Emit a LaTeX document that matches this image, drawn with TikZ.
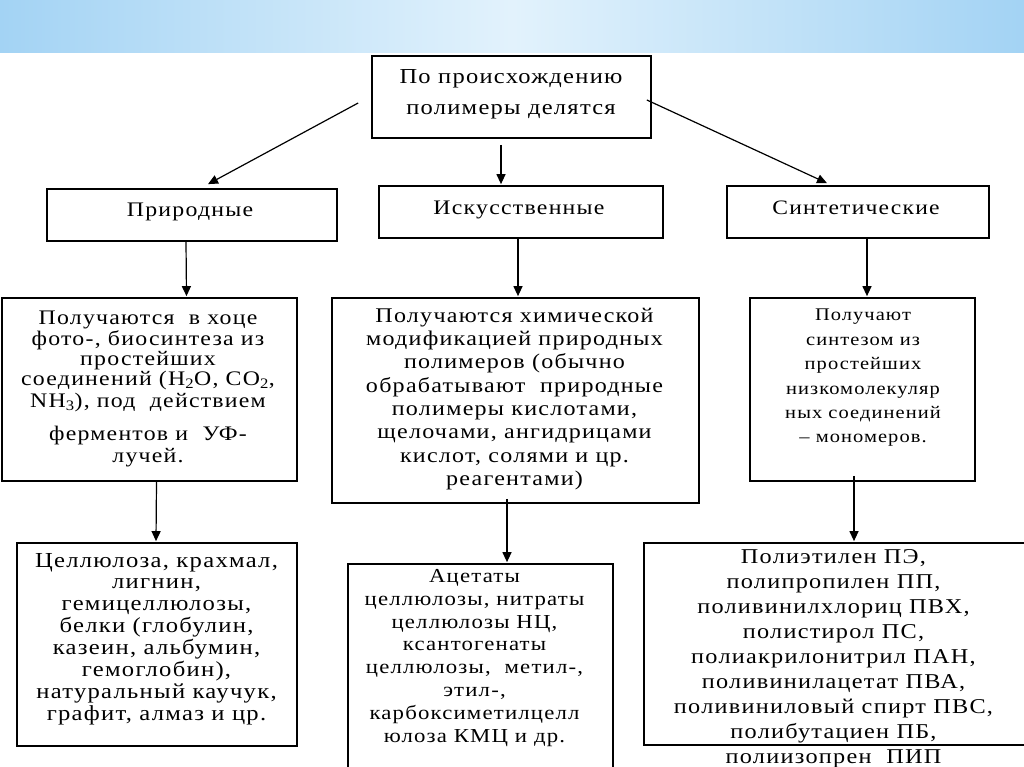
\documentclass[tikz,border=0pt]{standalone}
\usepackage{fontspec}
\setmainfont{Liberation Serif}[FakeStretch=1.15,LetterSpace=6]
\usetikzlibrary{arrows.meta}
\definecolor{bandedge}{HTML}{A3D3F4}
\definecolor{bandmid}{HTML}{E2F2FC}
\begin{document}
\begin{tikzpicture}[x=1pt,y=-1pt,
  box/.style={draw, line width=1.7pt, inner sep=0pt},
  txt/.style={align=center, inner sep=0pt},
  arr/.style={line width=1.2pt, -{Triangle[width=9pt,length=10pt]}}]
\useasboundingbox (0,0) rectangle (1024,767);
\clip (0,0) rectangle (1024,767);
\shade[left color=bandedge, right color=bandedge, middle color=bandmid] (0,0) rectangle (1024,53);
% boxes
\node[box, minimum width=279pt, minimum height=82pt] (top) at (511.5,97) {};
\node[box, minimum width=290pt, minimum height=52pt] (nat) at (192,215) {};
\node[box, minimum width=284pt, minimum height=52pt] (art) at (521,212) {};
\node[box, minimum width=262pt, minimum height=52pt] (syn) at (858,212) {};
\node[box, minimum width=295pt, minimum height=183pt] (ltxt) at (149.5,389.5) {};
\node[box, minimum width=367pt, minimum height=205pt] (mtxt) at (515.5,400.5) {};
\node[box, minimum width=225pt, minimum height=183pt] (rtxt) at (862.5,389.5) {};
\node[box, minimum width=280pt, minimum height=203pt] (lbot) at (157,644.5) {};
\node[box, minimum width=265pt, minimum height=216pt] (mbot) at (480.5,672) {};
\node[box, minimum width=391pt, minimum height=202pt] (rbot) at (839.5,644) {};
% texts
\node[txt, font=\fontsize{21.3}{31}\selectfont] (ttop) at (511,94.5) {По происхождению\\полимеры делятся};
\node[txt, font=\fontsize{20.7}{22}\selectfont] (tnat) at (190,212) {Природные};
\node[txt, font=\fontsize{20.7}{22}\selectfont] (tart) at (519,210) {Искусственные};
\node[txt, font=\fontsize{20.5}{22}\selectfont] (tsyn) at (856,208) {Синтетические};
\node[txt, font=\fontsize{20.7}{22}\selectfont] (tl) at (148,389) {Получаются~ в хоце\\[-1pt]
фото-, биосинтеза из\\[-2pt]
простейших\\[-2pt]
соединений (H\textsubscript{2}O, CO\textsubscript{2},\\[0pt]
NH\textsubscript{3}), под~ действием\\[11pt]
ферментов и~ УФ-\\
лучей.};
\node[txt, font=\fontsize{20.9}{23.3}\selectfont] (tm) at (514.5,399) {Получаются химической\\модификацией природных\\полимеров (обычно\\обрабатывают~ природные\\полимеры кислотами,\\щелочами, ангидрицами\\кислот, солями и цр.\\реагентами)};
\node[txt, font=\fontsize{17.8}{24.4}\selectfont] (tr) at (863,378) {Получают\\синтезом из\\простейших\\низкомолекуляр\\ных соединений\\– мономеров.};
\node[txt, font=\fontsize{21.4}{21.9}\selectfont] (tlb) at (156.5,639) {Целлюлоза, крахмал,\\лигнин,\\гемицеллюлозы,\\белки (глобулин,\\казеин, альбумин,\\гемоглобин),\\натуральный каучук,\\графит, алмаз и цр.};
\node[txt, font=\fontsize{19.8}{22.9}\selectfont] (tmb) at (474.5,658) {Ацетаты\\целлюлозы, нитраты\\целлюлозы НЦ,\\ксантогенаты\\целлюлозы,~ метил-,\\этил-,\\карбоксиметилцелл\\юлоза КМЦ и др.};
\node[txt, font=\fontsize{21.1}{25}\selectfont] (trb) at (833.5,659) {Полиэтилен ПЭ,\\полипропилен ПП,\\поливинилхлориц ПВХ,\\полистирол ПС,\\полиакрилонитрил ПАН,\\поливинилацетат ПВА,\\поливиниловый спирт ПВС,\\полибутациен ПБ,\\полиизопрен~ ПИП};
% connectors
\draw[arr] ([xshift=-13pt,yshift=-6pt]top.west) -- ([xshift=16pt,yshift=4pt]nat.north);
\draw[arr] ([xshift=-10.5pt,yshift=-6pt]top.south) -- ([xshift=-20pt,yshift=1pt]art.north);
\draw[arr] ([xshift=-5pt,yshift=-3pt]top.east) -- ([xshift=-31pt,yshift=2pt]syn.north);
\draw[arr] ([xshift=-6pt]nat.south) -- ([xshift=37pt,yshift=1pt]ltxt.north);
\draw[arr] ([xshift=-3pt]art.south) -- ([xshift=2.5pt,yshift=1pt]mtxt.north);
\draw[arr] ([xshift=9pt]syn.south) -- ([xshift=4.5pt,yshift=1pt]rtxt.north);
\draw[arr] ([xshift=7pt]ltxt.south) -- ([xshift=-1pt,yshift=1pt]lbot.north);
\draw[arr] ([xshift=-8.5pt,yshift=5pt]mtxt.south) -- ([xshift=26.5pt,yshift=1pt]mbot.north);
\draw[arr] ([xshift=-8.5pt,yshift=6pt]rtxt.south) -- ([xshift=14.5pt,yshift=1pt]rbot.north);
\end{tikzpicture}
\end{document}
